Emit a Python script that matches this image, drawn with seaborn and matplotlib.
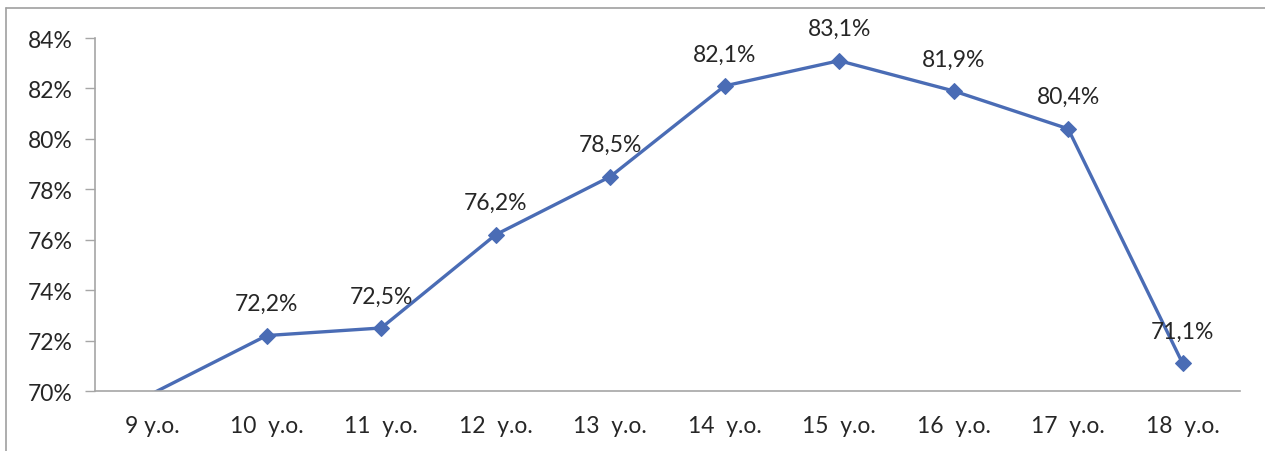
import matplotlib
matplotlib.use("Agg")
import matplotlib.pyplot as plt
import seaborn as sns
import pandas as pd
from matplotlib.lines import Line2D

ages = ["9 y.o.", "10  y.o.", "11  y.o.", "12  y.o.", "13  y.o.",
        "14  y.o.", "15  y.o.", "16  y.o.", "17  y.o.", "18  y.o."]
share = [69.9, 72.2, 72.5, 76.2, 78.5, 82.1, 83.1, 81.9, 80.4, 71.1]
yticks = [70, 72, 74, 76, 78, 80, 82, 84]

sns.set_style("white")
plt.rcParams['font.family'] = ['Lato', 'DejaVu Sans']

df = pd.DataFrame({"age": range(len(ages)), "share": share})
color = "#4a6cb5"
shown = [i for i, v in enumerate(share) if v >= 70]

fig = plt.figure(figsize=(12.65, 4.52), dpi=100)
ax = fig.add_axes([0.0751, 0.1327, 0.905, 0.781])
sns.lineplot(data=df, x="age", y="share", ax=ax, color=color, linewidth=2.4,
             marker="D", markersize=8, markeredgecolor=color, sort=False,
             markevery=shown)

ax.set_xlim(-0.5, len(ages) - 0.5)
ax.set_ylim(70, 84)
ax.set_yticks(yticks)
ax.set_yticklabels([f"{v}%" for v in yticks], fontsize=16.5)
ax.set_xticks(range(len(ages)))
ax.set_xticklabels(ages, fontsize=16.5)
ax.set_xticks([i - 0.5 for i in range(len(ages) + 1)], minor=True)
ax.tick_params(axis="x", which="major", length=0, pad=17)
ax.tick_params(axis="x", which="minor", length=7, color="#a6a6a6", width=1)
ax.tick_params(axis="y", length=7, color="#a6a6a6", width=1, pad=9, left=True)
ax.set_xlabel("")
ax.set_ylabel("")

for s in ["top", "right"]:
    ax.spines[s].set_visible(False)
for s in ["left", "bottom"]:
    ax.spines[s].set_color("#a6a6a6")
    ax.spines[s].set_linewidth(1.2)

for i in shown:
    v = share[i]
    ax.annotate(f"{v:.1f}%".replace(".", ","), (i, v), xytext=(0, 23),
                textcoords="offset points", ha="center", va="center",
                fontsize=16.5)

# outer chart border (top and left visible)
fig.add_artist(Line2D([6 / 1265, 6 / 1265], [0, 1 - 9 / 452],
                      transform=fig.transFigure, color="#a0a0a0", lw=1.2))
fig.add_artist(Line2D([6 / 1265, 1], [1 - 9 / 452, 1 - 9 / 452],
                      transform=fig.transFigure, color="#a0a0a0", lw=1.2))

fig.savefig("out.png", dpi=100)
